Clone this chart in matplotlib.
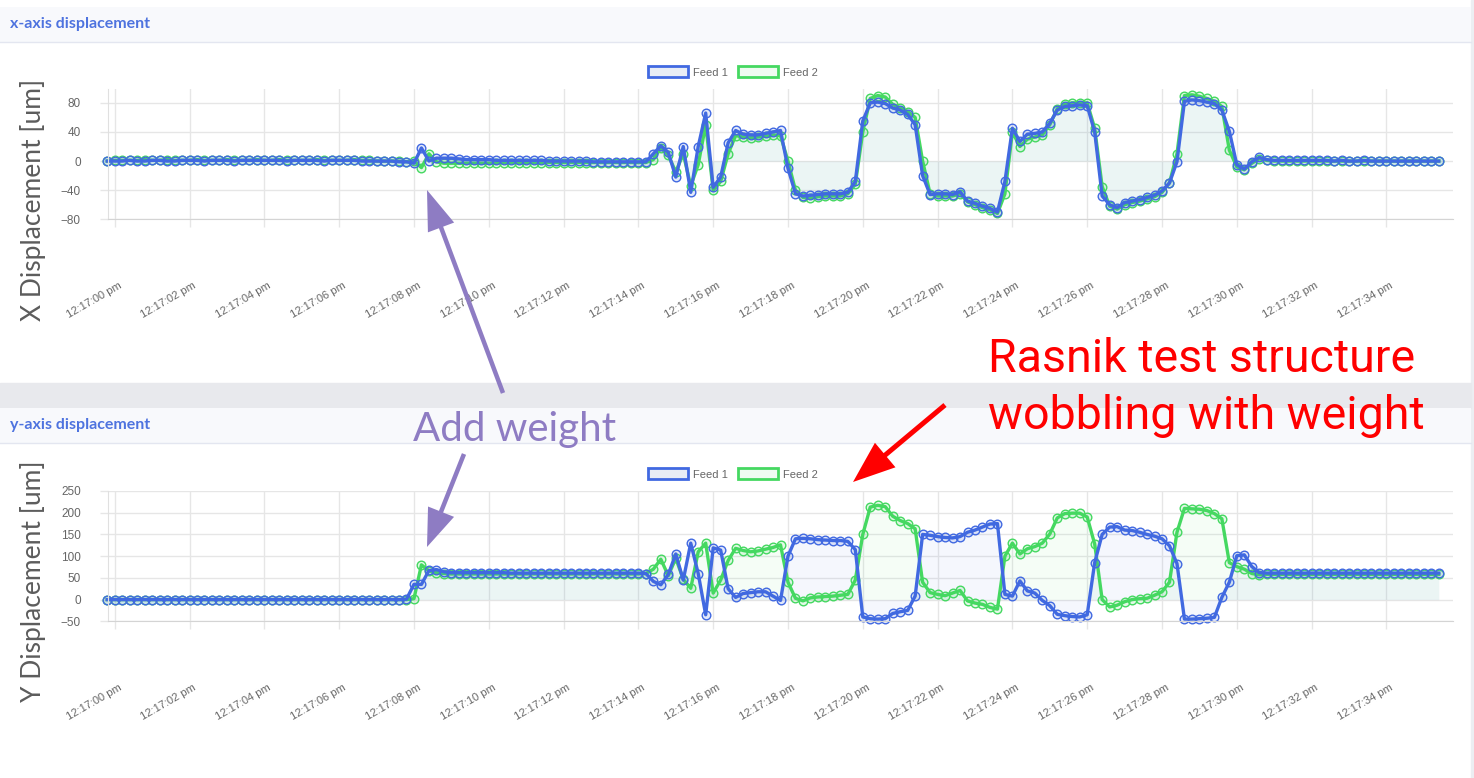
import numpy as np
import matplotlib.pyplot as plt
from matplotlib.patches import Rectangle, Patch, FancyArrow
from matplotlib.transforms import ScaledTranslation

plt.rcParams['font.family'] = ['Liberation Sans', 'DejaVu Sans']

W, H = 1474, 778
BLUE = '#4169e1'
GREEN = '#45d861'
PURPLE = '#8e7cc3'

# samples every 0.2 s, first one 0.2 s before 12:17:00
t = np.round(np.arange(179) * 0.2 - 0.2, 1)

tick_secs = [0, 2, 4, 6, 8, 10, 12, 14, 16, 18, 20, 22, 24, 26, 28, 30, 32, 34]
tick_labels = ['12:17:00 pm', '12:17:02 pm', '12:17:04 pm', '12:17:06 pm', '12:17:08 pm',
               '12:17:10 pm', '12:17:12 pm', '12:17:14 pm', '12:17:16 pm', '12:17:18 pm',
               '12:17:20 pm', '12:17:22 pm', '12:17:24 pm', '12:17:26 pm', '12:17:28 pm',
               '12:17:30 pm', '12:17:32 pm', '12:17:34 pm']

# x displacement [um]
x_feed1 = [0,
    0, 0, 1, 0, 0, 1, 1, 0, 0, 1,            # 0 - 1.8 s
    1, 1, 0, 1, 1, 1, 0, 1, 1, 1,            # 2
    1, 1, 1, 0, 1, 1, 1, 1, 0, 1,            # 4
    1, 1, 1, 0, 0, 0, 0, 0, -1, -1,          # 6
    -3, 18, 0, 4, 4, 4, 3, 2, 2, 2,          # 8
    2, 1, 1, 1, 1, 1, 1, 1, 0, 0,            # 10
    0, 0, 0, 0, -1, -1, -1, -1, -1, -1,      # 12
    -1, -1, 10, 21, 12, -22, 20, -43, 20, 66,    # 14
    -36, -22, 25, 42, 37, 36, 36, 38, 40, 42,    # 16
    -10, -45, -48, -47, -46, -45, -45, -45, -43, -28,  # 18
    55, 80, 81, 79, 73, 70, 64, 50, -20, -46,    # 20
    -45, -45, -46, -42, -55, -58, -62, -65, -70, -28,  # 22
    45, 27, 37, 38, 40, 52, 70, 75, 76, 77,      # 24
    76, 40, -48, -60, -64, -57, -55, -53, -50, -47,    # 26
    -41, -30, -1, 82, 84, 83, 81, 79, 70, 41,    # 28
    -5, -11, -1, 5, 2, 1, 1, 1, 1, 1,            # 30
    1, 1, 1, 0, 1, 0, 0, 1, 0, 0,                # 32
    0, 0, 0, 0, 0, 0, 0, 0]                      # 34

x_feed2 = [0,
    1, 1, 1, 1, 2, 1, 1, 2, 1, 1,
    1, 2, 1, 1, 1, 2, 1, 1, 1, 2,
    1, 1, 2, 1, 1, 1, 1, 2, 1, 1,
    1, 1, 2, 1, 1, 0, 0, 0, 0, -1,
    0, -9, 10, -1, -3, -3, -3, -3, -3, -3,
    -3, -3, -2, -2, -2, -2, -2, -2, -2, -2,
    -2, -2, -2, -2, -2, -2, -2, -2, -2, -2,
    -2, -2, 2, 18, 8, -15, 10, -34, -5, 50,
    -40, -28, 10, 35, 33, 32, 33, 34, 36, 35,
    0, -40, -50, -51, -49, -48, -48, -48, -45, -32,
    40, 86, 90, 88, 78, 73, 68, 60, 0, -45,
    -48, -48, -48, -45, -56, -60, -64, -67, -72, -45,
    40, 20, 30, 33, 36, 50, 72, 78, 80, 80,
    80, 45, -35, -62, -66, -60, -57, -55, -52, -49,
    -43, -30, 10, 90, 91, 89, 86, 82, 75, 15,
    -8, -12, -3, 3, 1, 0, 0, 0, 0, 0,
    0, 0, 0, 0, 0, 0, 0, 0, 0, 0,
    0, 0, 0, 0, 0, 0, 0, 0]

# y displacement [um]
y_feed1 = [0,
    0, 0, 0, 0, 0, 0, 0, 0, 0, 0,
    0, 0, 0, 0, 0, 0, 0, 0, 0, 0,
    0, 0, 0, 0, 0, 0, 0, 0, 0, 0,
    0, 0, 0, 0, 0, 0, 0, 0, 0, 1,
    35, 35, 67, 69, 64, 62, 62, 62, 62, 62,
    62, 62, 62, 61, 61, 61, 61, 61, 61, 61,
    61, 61, 61, 61, 61, 61, 61, 61, 61, 61,
    61, 60, 42, 34, 58, 105, 45, 130, 60, -35,
    119, 114, 25, 5, 14, 16, 18, 18, 8, -2,
    100, 140, 141, 140, 138, 137, 136, 136, 134, 115,
    -40, -44, -45, -44, -32, -28, -25, 8, 150, 148,
    145, 143, 142, 145, 155, 160, 167, 174, 175, 12,
    8, 43, 20, 15, -2, -14, -34, -37, -39, -40,
    -35, 85, 150, 167, 168, 160, 159, 155, 150, 146,
    140, 124, 83, -45, -45, -44, -43, -41, 5, 40,
    101, 103, 76, 62, 61, 61, 61, 61, 61, 61,
    61, 61, 61, 61, 61, 61, 61, 61, 61, 61,
    61, 61, 61, 61, 61, 61, 61, 61]

y_feed2 = [0,
    0, 0, 0, 0, 0, 0, 0, 0, 0, 0,
    0, 0, 0, 0, 0, 0, 0, 0, 0, 0,
    0, 0, 0, 0, 0, 0, 0, 0, 0, 0,
    0, 0, 0, 0, 0, 0, 0, 0, 0, 0,
    2, 80, 66, 62, 60, 59, 59, 59, 59, 59,
    59, 59, 59, 59, 59, 59, 59, 59, 59, 59,
    59, 59, 59, 59, 59, 59, 59, 59, 59, 59,
    59, 60, 70, 93, 55, 95, 47, 26, 110, 130,
    15, 45, 90, 118, 113, 110, 112, 116, 120, 126,
    40, 3, -3, 4, 6, 7, 8, 10, 12, 45,
    150, 213, 217, 214, 192, 182, 175, 163, 40, 16,
    12, 9, 15, 21, -3, -8, -11, -18, -22, 100,
    130, 105, 117, 122, 130, 151, 188, 198, 199, 199,
    190, 128, 0, -17, -13, -5, 0, 2, 3, 10,
    18, 40, 155, 210, 209, 208, 205, 198, 186, 85,
    76, 70, 60, 57, 58, 58, 58, 58, 58, 58,
    58, 58, 58, 58, 58, 58, 58, 58, 58, 58,
    58, 58, 58, 58, 58, 58, 58, 58]

fig = plt.figure(figsize=(W / 100, H / 100), dpi=100)

# page / card background, pixel coordinates
bg = fig.add_axes([0, 0, 1, 1], zorder=0)
bg.set_xlim(0, W)
bg.set_ylim(H, 0)
bg.axis('off')
bg.add_patch(Rectangle((1471, 0), 3, H, color='#eceef2'))
bg.add_patch(Rectangle((0, 383), 1471, 25, color='#e8e9ed'))
for y0, title in [(7, 'x-axis displacement'), (408, 'y-axis displacement')]:
    bg.add_patch(Rectangle((0, y0), 1471, 35, facecolor='#f8f9fc', edgecolor='none'))
    bg.plot([0, 1471], [y0 + 35, y0 + 35], color='#e3e6f0', lw=1)
    bg.text(10, y0 + 17, title, color='#4e73df', fontsize=11.5, fontweight='bold',
            family='Lato', va='center')
bg.text(33, 200, 'X Displacement [um]', rotation=90, ha='center', va='center',
        fontsize=19, family='Lato', color='#5c5c5c')
bg.text(33, 581, 'Y Displacement [um]', rotation=90, ha='center', va='center',
        fontsize=19, family='Lato', color='#5c5c5c')


def px_axes(x0, y0, x1, y1):
    return fig.add_axes([x0 / W, 1 - y1 / H, (x1 - x0) / W, (y1 - y0) / H], zorder=1)


ax1 = px_axes(108, 89, 1453, 219.3)
ax2 = px_axes(108, 491, 1453, 621.3)

panels = [
    (ax1, x_feed1, x_feed2, (-80, 99), [-80, -40, 0, 40, 80], 72),
    (ax2, y_feed1, y_feed2, (-50, 250), [-50, 0, 50, 100, 150, 200, 250], 474),
]

for ax, f1, f2, ylim, yticks, leg_y in panels:
    ax.set_facecolor('none')
    ax.fill_between(t, f2, 0, color=GREEN, alpha=0.05, lw=0)
    ax.fill_between(t, f1, 0, color=BLUE, alpha=0.05, lw=0)
    ax.plot(t, f2, color=GREEN, lw=2.4, marker='o', ms=6.2, mfc=(0.27, 0.85, 0.38, 0.15),
            mec=GREEN, mew=1, clip_on=False)
    ax.plot(t, f1, color=BLUE, lw=2.4, marker='o', ms=6.2, mfc=(0.25, 0.41, 0.88, 0.15),
            mec=BLUE, mew=1, clip_on=False)
    ax.set_xlim(-0.18, 35.78)
    ax.set_ylim(*ylim)
    ax.set_yticks(yticks)
    ax.set_xticks(tick_secs, tick_labels)
    ax.grid(color='#e6e6e6', lw=1)
    ax.set_axisbelow(True)
    for s in ['top', 'right']:
        ax.spines[s].set_visible(False)
    ax.spines['left'].set_color('#e0e0e0')
    ax.spines['bottom'].set_color('#d4d4d4')
    ax.tick_params(axis='both', color='#e6e6e6', length=5.8, width=1, labelcolor='#666666')
    ax.tick_params(axis='y', labelsize=8.5, pad=13.7)
    ax.tick_params(axis='x', labelsize=8, pad=41, labelrotation=30)
    for lab in ax.get_xticklabels():
        lab.set_ha('right')
        lab.set_va('center')
        lab.set_rotation_mode('anchor')
        lab.set_transform(lab.get_transform() + ScaledTranslation(6 / 100, 0, fig.dpi_scale_trans))

    handles = [Patch(facecolor='#e8edf5', edgecolor=BLUE, lw=2, label='Feed 1'),
               Patch(facecolor='#effbf2', edgecolor=GREEN, lw=2, label='Feed 2')]
    fig.legend(handles=handles, loc='center', bbox_to_anchor=(733 / W, 1 - leg_y / H),
               ncol=2, frameon=False, fontsize=8, handlelength=3.6, handleheight=1.1,
               handletextpad=0.45, columnspacing=0.9, labelcolor='#666666')

# annotations on top
ov = fig.add_axes([0, 0, 1, 1], zorder=10)
ov.set_xlim(0, W)
ov.set_ylim(H, 0)
ov.axis('off')


def arrow(x0, y0, x1, y1, color, width, hw, hl):
    ov.add_patch(FancyArrow(x0, y0, x1 - x0, y1 - y0, width=width, head_width=hw,
                            head_length=hl, length_includes_head=True, color=color, lw=0))


arrow(503, 393, 427, 190, PURPLE, 4.5, 28, 40)
arrow(464, 454, 427, 547, PURPLE, 4.5, 28, 38)
arrow(945, 405, 853, 482, '#ff0000', 5, 32, 42)

ov.text(413, 441, 'Add weight', color=PURPLE, fontsize=29, family='Lato', va='baseline')
ov.text(988, 372, 'Rasnik test structure', color='#ff0000', fontsize=33.5, family='Roboto',
        va='baseline')
ov.text(988, 429, 'wobbling with weight', color='#ff0000', fontsize=33.5, family='Roboto',
        va='baseline')

fig.savefig('out.png', dpi=100)
